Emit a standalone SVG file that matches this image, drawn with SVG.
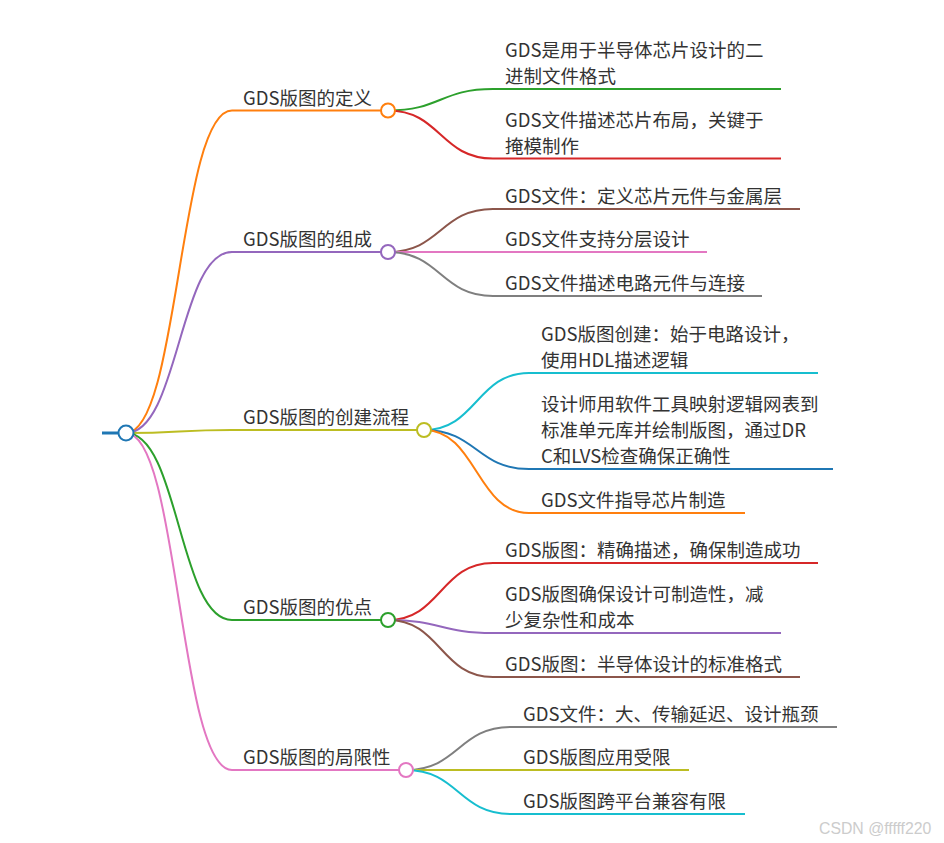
<svg xmlns="http://www.w3.org/2000/svg" width="944" height="843" viewBox="0 0 944 843">
<style>
  .t { font-family: "Noto Sans CJK SC", "Noto Sans", sans-serif; font-size: 18.5px; fill: #333; }
  .l { fill: none; stroke-width: 2; }
  .c { fill: #fff; stroke-width: 2; }
  .wm { font-family: "Liberation Sans", Arial, sans-serif; font-size: 15.8px; fill: #cccccc; }
</style>
<rect width="944" height="843" fill="#fff"/>
<g id="connectors" class="links">
  <path class="l" stroke="#ff7f0e" d="M126,433 C179,433 179,110.5 232,110.5"/>
  <path class="l" stroke="#9467bd" d="M126,433 C179,433 179,252 232,252"/>
  <path class="l" stroke="#bcbd22" d="M126,433 C179,433 179,430 232,430"/>
  <path class="l" stroke="#2ca02c" d="M126,433 C179,433 179,620 232,620"/>
  <path class="l" stroke="#e377c2" d="M126,433 C179,433 179,770 232,770"/>
  <path class="l" stroke="#2ca02c" d="M388,110.5 C440.5,110.5 440.5,89 493,89"/>
  <path class="l" stroke="#d62728" d="M388,110.5 C440.5,110.5 440.5,158.5 493,158.5"/>
  <path class="l" stroke="#8c564b" d="M388,252 C440.5,252 440.5,209 493,209"/>
  <path class="l" stroke="#e377c2" d="M388,252 C440.5,252 440.5,252 493,252"/>
  <path class="l" stroke="#7f7f7f" d="M388,252 C440.5,252 440.5,296 493,296"/>
  <path class="l" stroke="#17becf" d="M424,430 C476.5,430 476.5,373 529,373"/>
  <path class="l" stroke="#1f77b4" d="M424,430 C476.5,430 476.5,469 529,469"/>
  <path class="l" stroke="#ff7f0e" d="M424,430 C476.5,430 476.5,513 529,513"/>
  <path class="l" stroke="#d62728" d="M388,620 C440.5,620 440.5,563 493,563"/>
  <path class="l" stroke="#9467bd" d="M388,620 C440.5,620 440.5,633 493,633"/>
  <path class="l" stroke="#8c564b" d="M388,620 C440.5,620 440.5,677 493,677"/>
  <path class="l" stroke="#7f7f7f" d="M406,770 C458.5,770 458.5,727 511,727"/>
  <path class="l" stroke="#bcbd22" d="M406,770 C458.5,770 458.5,770 511,770"/>
  <path class="l" stroke="#17becf" d="M406,770 C458.5,770 458.5,814 511,814"/>
</g>

<g id="root">
  <line x1="102" y1="433" x2="126" y2="433" stroke="#1f77b4" stroke-width="3"/>
  <circle class="c" cx="126" cy="433" r="7.5" stroke="#1f77b4"/>
</g>

<g id="b1">
  <line class="l" x1="232" y1="110.5" x2="388" y2="110.5" stroke="#ff7f0e"/>
  <text class="t" x="243" y="104.5">GDS版图的定义</text>
  <circle class="c" cx="388" cy="110.5" r="7" stroke="#ff7f0e"/>
</g>
<g id="b1c1">
  <line class="l" x1="493" y1="89" x2="781" y2="89" stroke="#2ca02c"/>
  <text class="t" x="505" y="57">GDS是用于半导体芯片设计的二</text>
  <text class="t" x="505" y="83">进制文件格式</text>
</g>
<g id="b1c2">
  <line class="l" x1="493" y1="158.5" x2="781" y2="158.5" stroke="#d62728"/>
  <text class="t" x="505" y="126.5">GDS文件描述芯片布局，关键于</text>
  <text class="t" x="505" y="152.5">掩模制作</text>
</g>

<g id="b2">
  <line class="l" x1="232" y1="252" x2="388" y2="252" stroke="#9467bd"/>
  <text class="t" x="243" y="246">GDS版图的组成</text>
  <circle class="c" cx="388" cy="252" r="7" stroke="#9467bd"/>
</g>
<g id="b2c1">
  <line class="l" x1="493" y1="209" x2="800" y2="209" stroke="#8c564b"/>
  <text class="t" x="505" y="203">GDS文件：定义芯片元件与金属层</text>
</g>
<g id="b2c2">
  <line class="l" x1="493" y1="252" x2="707" y2="252" stroke="#e377c2"/>
  <text class="t" x="505" y="246">GDS文件支持分层设计</text>
</g>
<g id="b2c3">
  <line class="l" x1="493" y1="296" x2="762" y2="296" stroke="#7f7f7f"/>
  <text class="t" x="505" y="290">GDS文件描述电路元件与连接</text>
</g>

<g id="b3">
  <line class="l" x1="232" y1="430" x2="424" y2="430" stroke="#bcbd22"/>
  <text class="t" x="243" y="424">GDS版图的创建流程</text>
  <circle class="c" cx="424" cy="430" r="7" stroke="#bcbd22"/>
</g>
<g id="b3c1">
  <line class="l" x1="529" y1="373" x2="818" y2="373" stroke="#17becf"/>
  <text class="t" x="541" y="341">GDS版图创建：始于电路设计，</text>
  <text class="t" x="541" y="367">使用HDL描述逻辑</text>
</g>
<g id="b3c2">
  <line class="l" x1="529" y1="469" x2="833" y2="469" stroke="#1f77b4"/>
  <text class="t" x="541" y="411">设计师用软件工具映射逻辑网表到</text>
  <text class="t" x="541" y="437">标准单元库并绘制版图，通过DR</text>
  <text class="t" x="541" y="463">C和LVS检查确保正确性</text>
</g>
<g id="b3c3">
  <line class="l" x1="529" y1="513" x2="745" y2="513" stroke="#ff7f0e"/>
  <text class="t" x="541" y="507">GDS文件指导芯片制造</text>
</g>

<g id="b4">
  <line class="l" x1="232" y1="620" x2="388" y2="620" stroke="#2ca02c"/>
  <text class="t" x="243" y="614">GDS版图的优点</text>
  <circle class="c" cx="388" cy="620" r="7" stroke="#2ca02c"/>
</g>
<g id="b4c1">
  <line class="l" x1="493" y1="563" x2="818" y2="563" stroke="#d62728"/>
  <text class="t" x="505" y="557">GDS版图：精确描述，确保制造成功</text>
</g>
<g id="b4c2">
  <line class="l" x1="493" y1="633" x2="781" y2="633" stroke="#9467bd"/>
  <text class="t" x="505" y="601">GDS版图确保设计可制造性，减</text>
  <text class="t" x="505" y="627">少复杂性和成本</text>
</g>
<g id="b4c3">
  <line class="l" x1="493" y1="677" x2="800" y2="677" stroke="#8c564b"/>
  <text class="t" x="505" y="671">GDS版图：半导体设计的标准格式</text>
</g>

<g id="b5">
  <line class="l" x1="232" y1="770" x2="406" y2="770" stroke="#e377c2"/>
  <text class="t" x="243" y="764">GDS版图的局限性</text>
  <circle class="c" cx="406" cy="770" r="7" stroke="#e377c2"/>
</g>
<g id="b5c1">
  <line class="l" x1="511" y1="727" x2="837" y2="727" stroke="#7f7f7f"/>
  <text class="t" x="523" y="721">GDS文件：大、传输延迟、设计瓶颈</text>
</g>
<g id="b5c2">
  <line class="l" x1="511" y1="770" x2="689" y2="770" stroke="#bcbd22"/>
  <text class="t" x="523" y="764">GDS版图应用受限</text>
</g>
<g id="b5c3">
  <line class="l" x1="511" y1="814" x2="745" y2="814" stroke="#17becf"/>
  <text class="t" x="523" y="808">GDS版图跨平台兼容有限</text>
</g>

<text class="wm" x="819" y="834">CSDN @fffff220</text>
</svg>
